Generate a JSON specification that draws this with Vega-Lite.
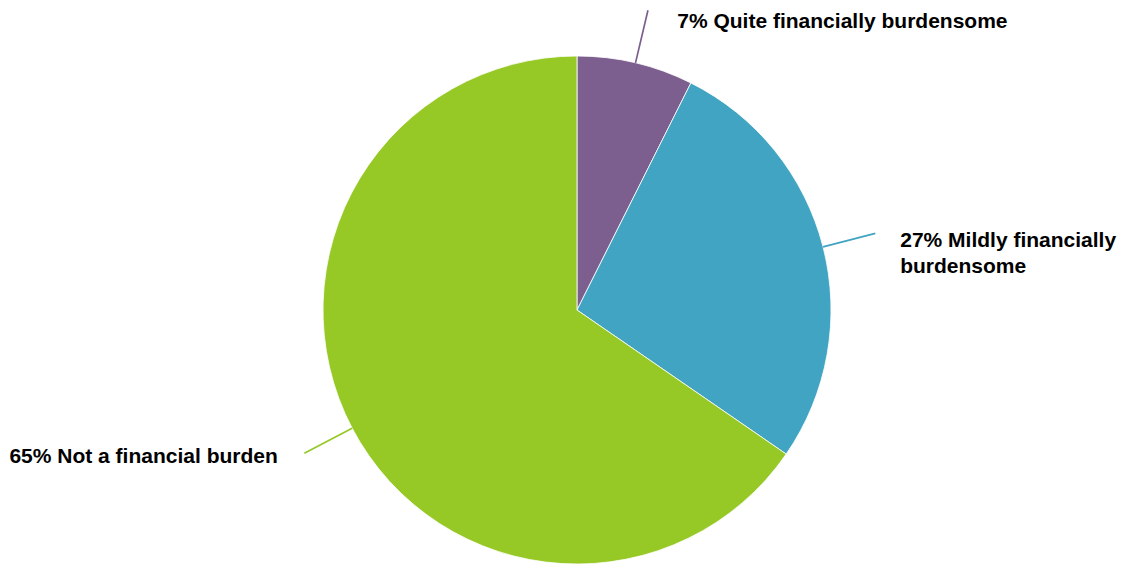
{
  "$schema": "https://vega.github.io/schema/vega-lite/v6.json",
  "width": 1096,
  "height": 508,
  "autosize": {"type": "none"},
  "padding": {"left": 29, "top": 56, "right": 0, "bottom": 0},
  "background": "white",
  "config": {"view": {"stroke": null}, "text": {"font": "Liberation Sans"}},
  "data": {
    "values": [
      {"category": "Quite financially burdensome", "value": 7.4, "order": 1, "label": "7% Quite financially burdensome"},
      {"category": "Mildly financially burdensome", "value": 27.2, "order": 2, "label": "27% Mildly financially\nburdensome"},
      {"category": "Not a financial burden", "value": 65.4, "order": 3, "label": "65% Not a financial burden"}
    ]
  },
  "layer": [
    {
      "mark": {"type": "arc", "radius": 254, "stroke": "#ffffff", "strokeWidth": 0.8},
      "encoding": {
        "theta": {"field": "value", "type": "quantitative", "stack": true, "scale": {"domain": [0, 100]}},
        "order": {"field": "order", "type": "quantitative"},
        "color": {
          "field": "category", "type": "nominal", "legend": null,
          "scale": {"domain": ["Quite financially burdensome", "Mildly financially burdensome", "Not a financial burden"], "range": ["#7C5F8E", "#40A4C2", "#96C826"]}
        }
      }
    },
    {
      "transform": [
        {"stack": "value", "groupby": [], "sort": [{"field": "order", "order": "ascending"}], "as": ["s", "e"]},
        {"fold": ["s", "e"], "as": ["k", "v"]},
        {"aggregate": [{"op": "mean", "field": "v", "as": "mid"}], "groupby": ["category", "label"]}
      ],
      "mark": {"type": "arc", "radius": 308, "radius2": 254, "filled": false, "strokeWidth": 1.7},
      "encoding": {
        "theta": {"field": "mid", "type": "quantitative", "stack": null},
        "theta2": {"field": "mid"},
        "color": {"field": "category", "type": "nominal", "legend": null}
      }
    },
    {
      "transform": [
        {"stack": "value", "groupby": [], "sort": [{"field": "order", "order": "ascending"}], "as": ["s", "e"]},
        {"fold": ["s", "e"], "as": ["k", "v"]},
        {"aggregate": [{"op": "mean", "field": "v", "as": "mid"}], "groupby": ["category", "label"]},
        {"filter": {"field": "category", "equal": "Quite financially burdensome"}}
      ],
      "mark": {"type": "text", "radius": 305, "align": "left", "baseline": "alphabetic", "dx": 30, "dy": 15, "fontSize": 21, "fontWeight": "bold", "color": "#000000"},
      "encoding": {
        "theta": {"field": "mid", "type": "quantitative", "stack": null},
        "text": {"field": "label", "type": "nominal"}
      }
    },
    {
      "transform": [
        {"stack": "value", "groupby": [], "sort": [{"field": "order", "order": "ascending"}], "as": ["s", "e"]},
        {"fold": ["s", "e"], "as": ["k", "v"]},
        {"aggregate": [{"op": "mean", "field": "v", "as": "mid"}], "groupby": ["category", "label"]},
        {"filter": {"field": "category", "equal": "Mildly financially burdensome"}}
      ],
      "mark": {"type": "text", "radius": 312, "align": "left", "baseline": "alphabetic", "dx": 21, "dy": 15, "fontSize": 21, "fontWeight": "bold", "color": "#000000", "lineBreak": "\n", "lineHeight": 26},
      "encoding": {
        "theta": {"field": "mid", "type": "quantitative", "stack": null},
        "text": {"field": "label", "type": "nominal"}
      }
    },
    {
      "transform": [
        {"stack": "value", "groupby": [], "sort": [{"field": "order", "order": "ascending"}], "as": ["s", "e"]},
        {"fold": ["s", "e"], "as": ["k", "v"]},
        {"aggregate": [{"op": "mean", "field": "v", "as": "mid"}], "groupby": ["category", "label"]},
        {"filter": {"field": "category", "equal": "Not a financial burden"}}
      ],
      "mark": {"type": "text", "radius": 312, "align": "right", "baseline": "alphabetic", "dx": -23, "dy": 8, "fontSize": 21, "fontWeight": "bold", "color": "#000000"},
      "encoding": {
        "theta": {"field": "mid", "type": "quantitative", "stack": null},
        "text": {"field": "label", "type": "nominal"}
      }
    }
  ]
}
